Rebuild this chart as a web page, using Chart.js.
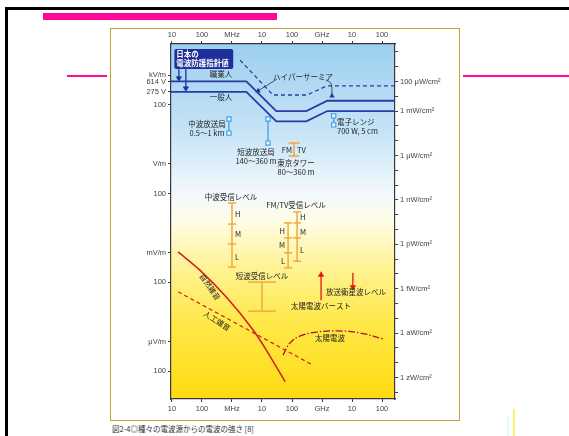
<!DOCTYPE html>
<html>
<head>
<meta charset="utf-8">
<script src="https://cdn.jsdelivr.net/npm/chart.js@4/dist/chart.umd.min.js"></script>
<style>
    html, body { margin: 0; padding: 0; background: #fff; }
    #page { position: relative; width: 569px; height: 436px; overflow: hidden; font-family: "Noto Sans CJK JP", sans-serif; }
    .abs { position: absolute; box-sizing: border-box; }
    #c { position: absolute; left: 0; top: 0; }
</style>
</head>
<body>
<div id="page">
    <div class="abs" style="left:5px;top:7px;width:570px;height:440px;border-left:3px solid #000;border-top:3px solid #000;"></div>
    <div class="abs" style="left:43px;top:13px;width:234px;height:7px;background:#ff0a96;"></div>
    <div class="abs" style="left:67px;top:75px;width:40px;height:2px;background:#ff0a96;"></div>
    <div class="abs" style="left:463px;top:75px;width:106px;height:2px;background:#ff0a96;"></div>
    <div class="abs" style="left:110px;top:28px;width:350px;height:393px;border:1.5px solid #c9a03a;"></div>
    <div class="abs" style="left:112px;top:423px;font-size:7.5px;color:#333;white-space:nowrap;">図2-4◎種々の電波源からの電波の強さ [8]</div>
    <div class="abs" style="left:507px;top:416px;width:2px;height:20px;background:#e6fbff;"></div>
    <div class="abs" style="left:513px;top:409px;width:2px;height:27px;background:#fff36a;"></div>
    <canvas id="c" width="569" height="436"></canvas>
</div>
<script>
// --- axes ---
const freqTicks = [1e4, 1e5, 1e6, 1e7, 1e8, 1e9, 1e10, 1e11];
const freqTickLabels = ['10', '100', 'MHz', '10', '100', 'GHz', '10', '100'];
const fieldTicks = [1000, 614, 275, 100, 1, 0.1, 1e-3, 1e-4, 1e-6, 1e-7];
const fieldTickLabels = ['kV/m', '614 V', '275 V', '100', 'V/m', '100', 'mV/m', '100', 'μV/m', '100'];
const powerTickExp = [1, 0, -1, -2, -3, -4, -5, -6, -7, -8, -9, -10, -11, -12, -13, -14, -15, -16, -17, -18, -19, -20, -21, -22];
const powerTickLabels = { '-1': '100 μW/cm²', '-3': '1 mW/cm²', '-6': '1 μW/cm²', '-9': '1 nW/cm²',
    '-12': '1 pW/cm²', '-15': '1 fW/cm²', '-18': '1 aW/cm²', '-21': '1 zW/cm²' };

// --- 日本の電波防護指針値 (V/m) ---
const limitFreq = [9e3, 3e6, 3e7, 3e8, 1.5e9, 3e11];
const occupationalE = [614, 614, 61.4, 61.4, 137, 137];
const generalE = [275, 275, 27.5, 27.5, 61.4, 61.4];
const hyperFreq = [1.85e6, 2.33e7, 3.16e8, 1.47e9, 3e11];
const hyperE = [3240, 214, 214, 437, 437];
const hyperMarkF = [7.4e6, 2.15e9];
const hyperMarkE = [295, 200];

// --- 電波源 ---
const mwStationF = 7.9e5, mwStationE = [33, 11];
const swStationF = 1.58e7, swStationE = [33, 5.1];
const ovenF = 2.45e9, ovenE = [42, 21];
const towerF = 1.17e8, towerE = [5.1, 1.86];

// --- 受信レベル ---
const mwRxF = 1e6, mwRxE = [0.048, 0.0093, 0.002, 3.3e-4];
const fmRxF = 7.4e7, fmRxE = [0.0102, 0.0032, 0.001, 3.1e-4];
const tvRxF = 1.48e8, tvRxE = [0.024, 0.0102, 0.0032, 5.2e-4];
const swRxF = 1e7, swRxE = [1.02e-4, 1.07e-5];
const burstF = 9.3e8, burstE = [2.5e-5, 1.8e-4];
const bsF = 1.07e10, bsE = [2.1e-4, 6.9e-5];

// --- 雑音 ---
const naturalF = [1.6e4, 8.5e4, 6.8e5, 5.0e6, 1.6e7, 5.9e7];
const naturalE = [1.07e-3, 2.6e-4, 3.0e-5, 2.5e-6, 4.1e-7, 4.4e-8];
const manmadeF = [1.6e4, 5.0e8];
const manmadeE = [4.8e-5, 1.6e-7];
const solarF = [5.0e7, 8.5e7, 1.9e8, 6.8e8, 3.2e9, 1.9e10, 1.07e11];
const solarE = [3.5e-7, 8.9e-7, 1.55e-6, 2.1e-6, 2.3e-6, 1.95e-6, 1.23e-6];

// label box, leader lines, text notes (frequency, field)
const boxF = [1.2e4, 1.1e6], boxE = [7700, 1620];
const boxArrowF = [1.7e4, 2.9e4], boxArrowE = [[1600, 790], [1600, 360]];
const leaderLeft = [[3.16e7, 741], [7.4e6, 295]];
const leaderRight = [[1.36e9, 692], [2.0e9, 520], [2.15e9, 230]];
const notes = [
    ['職業人', 4.3e5, 1100, 'center', 0],
    ['一般人', 4.3e5, 182, 'center', 0],
    ['ハイパーサーミア', 2.33e8, 871, 'center', 0],
    ['中波放送局', 1.47e5, 22.4, 'center', 0],
    ['0.5〜1 km', 1.47e5, 11.2, 'center', 0],
    ['短波放送局', 6.3e6, 2.54, 'center', 0],
    ['140〜360 m', 6.3e6, 1.26, 'center', 0],
    ['電子レンジ', 3.16e9, 26.3, 'left', 0],
    ['700 W, 5 cm', 3.16e9, 12.9, 'left', 0],
    ['FM', 1.0e8, 2.95, 'right', 0],
    ['TV', 1.47e8, 2.95, 'left', 0],
    ['東京タワー', 1.36e8, 1.08, 'center', 0],
    ['80〜360 m', 1.36e8, 0.54, 'center', 0],
    ['中波受信レベル', 9.3e5, 0.0767, 'center', 0],
    ['H', 1.26e6, 0.0204, 'left', 0],
    ['M', 1.26e6, 0.00437, 'left', 0],
    ['L', 1.26e6, 7.2e-4, 'left', 0],
    ['FM/TV受信レベル', 1.36e8, 0.0412, 'center', 0],
    ['H', 5.85e7, 0.0055, 'right', 0],
    ['M', 5.85e7, 0.00182, 'right', 0],
    ['L', 5.85e7, 5.2e-4, 'right', 0],
    ['H', 1.85e8, 0.0162, 'left', 0],
    ['M', 1.85e8, 0.005, 'left', 0],
    ['L', 1.85e8, 0.00123, 'left', 0],
    ['短波受信レベル', 1e7, 1.66e-4, 'center', 0],
    ['太陽電波バースト', 9.3e8, 1.58e-5, 'center', 0],
    ['放送衛星波レベル', 1.36e10, 4.8e-5, 'center', 0],
    ['自然雑音', 1.85e5, 7.0e-5, 'center', 55],
    ['人工雑音', 3.16e5, 5.0e-6, 'center', 33],
    ['太陽電波', 1.85e9, 1.32e-6, 'center', 0]
];

const BLUE = '#2c3aa6', SKY = '#3d9ee6', ORANGE = '#f2a93b', RED = '#d41c1c', DARKRED = '#a8102c';
const toE = p => Math.sqrt(p * 1e4 * 377);

const xy = (fs, es) => fs.map((f, i) => ({ x: f, y: es[i] }));
const at = (f, es) => es.map(e => ({ x: f, y: e }));
const line = (data, color, width, extra) => Object.assign({
    data, borderColor: color, backgroundColor: color, borderWidth: width,
    pointRadius: 0, fill: false, tension: 0
}, extra || {});
const bar = (f, es, cap) => line(at(f, es), ORANGE, 1.5, { pointStyle: 'line', pointRadius: cap, pointBorderWidth: 1.5 });
const src = (f, es) => line(at(f, es), SKY, 1.3, { pointStyle: 'rect', pointRadius: 3, pointBackgroundColor: '#eaf5ff', pointBorderWidth: 1.1 });
const arrow = (f, es, color, rot) => line(at(f, es), color, 1.3, { pointStyle: 'triangle', pointRadius: [0, 3.2], pointRotation: rot, pointBorderWidth: 0.5 });

const tickFont = { family: '"Liberation Sans", Arial, sans-serif', size: 7.5 };
function logAxis(position, min, max, vals, label, size) {
    return {
        type: 'logarithmic', position, min, max, bounds: 'data',
        afterBuildTicks: s => { s.ticks = vals.map(v => ({ value: v })); },
        afterFit: s => { if (s.isHorizontal()) s.height = size; else s.width = size; },
        ticks: { autoSkip: false, maxRotation: 0, font: tickFont, color: '#444', padding: 2, callback: (v, i) => label(i) },
        grid: { drawOnChartArea: false, tickLength: 3, color: '#3a3a3a' },
        border: { color: '#3a3a3a', width: 1.2 }
    };
}

const F_MIN = 10 ** 3.967, F_MAX = 10 ** 11.433, E_MIN = 10 ** -7.94, E_MAX = 10 ** 4.054;

const decor = {
    id: 'decor',
    beforeDraw(chart) {
        const { ctx, chartArea: a } = chart;
        const g = ctx.createLinearGradient(0, a.top, 0, a.bottom);
        g.addColorStop(0, '#9ccff0');
        g.addColorStop(0.25, '#c7e4f7');
        g.addColorStop(0.42, '#f2f8fc');
        g.addColorStop(0.5, '#fffde6');
        g.addColorStop(0.62, '#fff39a');
        g.addColorStop(0.78, '#ffe94a');
        g.addColorStop(1, '#ffdb12');
        ctx.save();
        ctx.fillStyle = g;
        ctx.fillRect(a.left, a.top, a.right - a.left, a.bottom - a.top);
        ctx.restore();
    },
    afterDatasetsDraw(chart) {
        const { ctx, scales: { x, y } } = chart;
        ctx.save();
        const bx0 = x.getPixelForValue(boxF[0]), bx1 = x.getPixelForValue(boxF[1]);
        const by0 = y.getPixelForValue(boxE[0]), by1 = y.getPixelForValue(boxE[1]);
        ctx.fillStyle = '#1f2f9a';
        ctx.beginPath();
        if (ctx.roundRect) ctx.roundRect(bx0, by0, bx1 - bx0, by1 - by0, 2); else ctx.rect(bx0, by0, bx1 - bx0, by1 - by0);
        ctx.fill();
        ctx.fillStyle = '#fff';
        ctx.font = 'bold 7.5px "Noto Sans CJK JP"';
        ctx.textBaseline = 'middle';
        ctx.textAlign = 'left';
        ctx.fillText('日本の', bx0 + 2, by0 + 5.5);
        ctx.fillText('電波防護指針値', bx0 + 2, by0 + 14.5);

        ctx.fillStyle = '#222';
        ctx.font = '7.5px "Noto Sans CJK JP"';
        notes.forEach(([t, f, e, align, rot]) => {
            ctx.save();
            ctx.translate(x.getPixelForValue(f), y.getPixelForValue(e));
            ctx.rotate(rot * Math.PI / 180);
            ctx.textAlign = align;
            ctx.fillText(t, 0, 0);
            ctx.restore();
        });
        ctx.restore();
    }
};

new Chart(document.getElementById('c'), {
    type: 'line',
    data: {
        datasets: [
            line(xy(limitFreq, occupationalE), BLUE, 1.8),
            line(xy(limitFreq, generalE), BLUE, 1.8),
            line(xy(hyperFreq, hyperE), BLUE, 1.3, { borderDash: [4, 3] }),
            line(leaderLeft.map(p => ({ x: p[0], y: p[1] })), '#111', 0.7),
            line(leaderRight.map(p => ({ x: p[0], y: p[1] })), '#111', 0.7, { tension: 0.4 }),
            line(xy(hyperMarkF, hyperMarkE), BLUE, 0, { showLine: false, pointStyle: 'triangle', pointRadius: 3.2 }),
            arrow(boxArrowF[0], boxArrowE[0], '#1f2f9a', 180),
            arrow(boxArrowF[1], boxArrowE[1], '#1f2f9a', 180),
            src(mwStationF, mwStationE),
            src(swStationF, swStationE),
            src(ovenF, ovenE),
            bar(towerF, towerE, 5.5),
            bar(mwRxF, mwRxE, 4),
            bar(fmRxF, fmRxE, 4),
            bar(tvRxF, tvRxE, 4),
            bar(swRxF, swRxE, 14),
            arrow(burstF, burstE, '#e01818', 0),
            arrow(bsF, bsE, '#e01818', 180),
            line(xy(naturalF, naturalE), RED, 1.5, { tension: 0.3 }),
            line(xy(manmadeF, manmadeE), RED, 1.2, { borderDash: [4, 3] }),
            line(xy(solarF, solarE), DARKRED, 1.3, { borderDash: [7, 2, 1.5, 2], tension: 0.4 })
        ]
    },
    options: {
        responsive: false,
        animation: false,
        events: [],
        layout: { padding: 0 },
        plugins: { legend: { display: false }, tooltip: { enabled: false } },
        scales: {
            x: logAxis('bottom', F_MIN, F_MAX, freqTicks, i => freqTickLabels[i], 37),
            x2: logAxis('top', F_MIN, F_MAX, freqTicks, i => freqTickLabels[i], 44),
            y: logAxis('left', E_MIN, E_MAX, fieldTicks, i => fieldTickLabels[i], 171),
            y2: logAxis('right', E_MIN, E_MAX, powerTickExp.map(p => toE(10 ** p)),
                i => powerTickLabels[String(powerTickExp[i])] || '', 174)
        }
    },
    plugins: [decor]
});
</script>
</body>
</html>
